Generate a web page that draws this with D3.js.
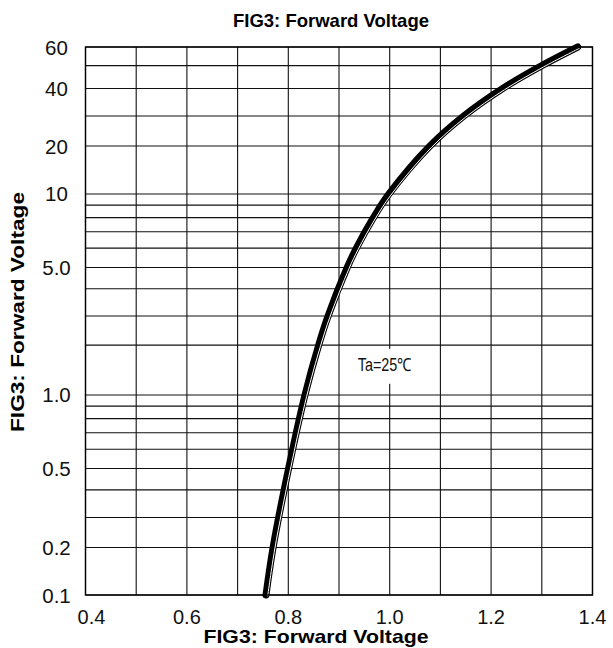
<!DOCTYPE html>
<html>
<head>
<meta charset="utf-8">
<script src="https://cdn.jsdelivr.net/npm/d3@7"></script>
<style>
  body { margin: 0; background: #fff; }
  text { font-family: "Liberation Sans", Arial, sans-serif; }
</style>
</head>
<body>
<div id="chart-container"></div>
<script>
// forward current (mA) vs forward voltage (V)
const xTicks = [0.4, 0.6, 0.8, 1.0, 1.2, 1.4];
const xGrid = [0.4, 0.5, 0.6, 0.7, 0.8, 0.9, 1.0, 1.1, 1.2, 1.3, 1.4];
const yTicks = [0.1, 0.2, 0.5, 1.0, 5.0, 10, 20, 40, 60];
const yTickLabels = ["0.1", "0.2", "0.5", "1.0", "5.0", "10", "20", "40", "60"];
const yGrid = [0.1, 0.2, 0.3, 0.4, 0.5, 0.6, 0.7, 0.8, 0.9, 1, 2, 3, 4, 5, 6, 7, 8, 9, 10, 20, 30, 40, 50, 60];

const curveCurrent = [0.1, 0.2, 0.5, 1.0, 2, 3, 5, 6, 8, 10, 20, 30, 40, 50, 60];
const curveVoltage = [0.756, 0.770, 0.8006, 0.8329, 0.8599, 0.8785, 0.9162, 0.9343, 0.9679, 0.9986, 1.0793, 1.1461, 1.2229, 1.300, 1.371];

const titleText = "FIG3: Forward Voltage";
const noteText = "Ta=25\u2103";

const margin = { top: 47, right: 20.5, bottom: 53, left: 85.5 },
  width = 613,
  height = 648,
  innerWidth = width - margin.left - margin.right,
  innerHeight = height - margin.top - margin.bottom;

const xScale = d3.scaleLinear().domain([0.4, 1.4]).range([0, innerWidth]);

// the printed grid is not a true log grid, so the log scale is piecewise
const yStops = [0.1, 0.2, 0.3, 0.5, 1, 3, 5, 10, 20, 30, 40, 60];
const yFrac = [0, 0.0867, 0.1414, 0.2308, 0.365, 0.5091, 0.5976, 0.7318, 0.8193, 0.8741, 0.9243, 1];
const yScale = d3.scaleLog()
  .domain(yStops)
  .range(yFrac.map((f) => innerHeight * (1 - f)));

const svg = d3.select("#chart-container")
  .append("svg")
  .attr("width", width)
  .attr("height", height);

const g = svg.append("g")
  .attr("transform", `translate(${margin.left},${margin.top})`);

// grid
g.selectAll(".vgrid")
  .data(xGrid)
  .join("line")
  .attr("class", "vgrid")
  .attr("x1", (d) => xScale(d))
  .attr("x2", (d) => xScale(d))
  .attr("y1", 0)
  .attr("y2", innerHeight)
  .attr("stroke", "#111")
  .attr("stroke-width", 1.1);

g.selectAll(".hgrid")
  .data(yGrid)
  .join("line")
  .attr("class", "hgrid")
  .attr("x1", 0)
  .attr("x2", innerWidth)
  .attr("y1", (d) => yScale(d))
  .attr("y2", (d) => yScale(d))
  .attr("stroke", "#111")
  .attr("stroke-width", 1.1);

// note label sits on a white patch that breaks the grid
const noteX = xScale(0.937), noteY = yScale(1.4);
g.append("rect")
  .attr("x", noteX - 4)
  .attr("y", noteY - 22)
  .attr("width", 62)
  .attr("height", 35)
  .attr("fill", "#fff");
g.append("text")
  .attr("x", noteX)
  .attr("y", noteY)
  .attr("font-size", 18)
  .attr("textLength", 54)
  .attr("lengthAdjust", "spacingAndGlyphs")
  .attr("fill", "#111")
  .text(noteText);

// the curve: heavy black stroke with a thin white line inside
const curveData = curveCurrent.map((c, i) => ({ i: c, v: curveVoltage[i] }));
const line = d3.line()
  .x((d) => xScale(d.v))
  .y((d) => yScale(d.i))
  .curve(d3.curveCatmullRom.alpha(0.5));

g.append("path")
  .datum(curveData)
  .attr("d", line)
  .attr("fill", "none")
  .attr("stroke", "#000")
  .attr("stroke-width", 7)
  .attr("stroke-linecap", "round");

g.append("path")
  .datum(curveData)
  .attr("d", line)
  .attr("transform", "translate(1.7,1.3)")
  .attr("fill", "none")
  .attr("stroke", "#fff")
  .attr("stroke-width", 1);

// frame
g.append("rect")
  .attr("width", innerWidth)
  .attr("height", innerHeight)
  .attr("fill", "none")
  .attr("stroke", "#000")
  .attr("stroke-width", 1.4);

// tick labels
g.selectAll(".xlab")
  .data(xTicks)
  .join("text")
  .attr("class", "xlab")
  .attr("x", (d) => xScale(d) + (d === 0.4 ? 6 : 0))
  .attr("y", innerHeight + 29)
  .attr("text-anchor", "middle")
  .attr("font-size", 20)
  .attr("fill", "#111")
  .text((d) => d.toFixed(1));

g.selectAll(".ylab")
  .data(yTicks)
  .join("text")
  .attr("class", "ylab")
  .attr("x", -29)
  .attr("y", (d) => yScale(d) + 7.5)
  .attr("text-anchor", "middle")
  .attr("font-size", 20.5)
  .attr("fill", "#111")
  .text((d, i) => yTickLabels[i]);

// titles
svg.append("text")
  .attr("x", 331)
  .attr("y", 27)
  .attr("text-anchor", "middle")
  .attr("font-size", 19)
  .attr("font-weight", "bold")
  .attr("textLength", 196)
  .attr("lengthAdjust", "spacingAndGlyphs")
  .text(titleText);

svg.append("text")
  .attr("x", 316)
  .attr("y", 643)
  .attr("text-anchor", "middle")
  .attr("font-size", 19)
  .attr("font-weight", "bold")
  .attr("textLength", 225)
  .attr("lengthAdjust", "spacingAndGlyphs")
  .text(titleText);

svg.append("text")
  .attr("transform", "translate(24,312) rotate(-90)")
  .attr("text-anchor", "middle")
  .attr("font-size", 19)
  .attr("font-weight", "bold")
  .attr("textLength", 240)
  .attr("lengthAdjust", "spacingAndGlyphs")
  .text(titleText);
</script>
</body>
</html>
